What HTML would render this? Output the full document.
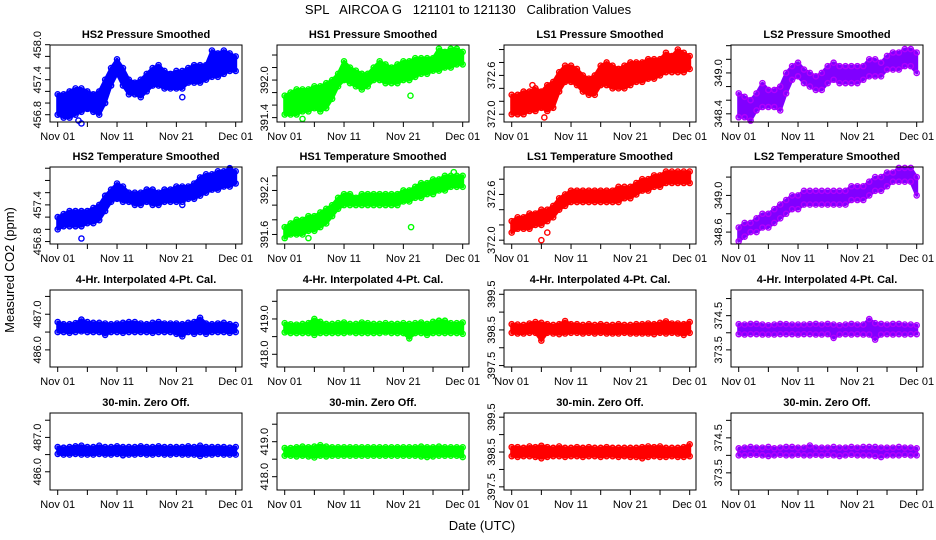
<!DOCTYPE html>
<html><head><meta charset="utf-8"><style>
html,body{margin:0;padding:0;background:#fff}
svg{display:block;font-family:"Liberation Sans",sans-serif}
</style></head><body>
<svg id="chart" width="936" height="540" viewBox="0 0 936 540" xmlns="http://www.w3.org/2000/svg">
<rect width="936" height="540" fill="#fff"/>
<text x="468" y="14" font-size="13" text-anchor="middle" xml:space="preserve">SPL   AIRCOA G   121101 to 121130   Calibration Values</text>
<text transform="translate(14,270) rotate(-90)" font-size="13" text-anchor="middle">Measured CO2 (ppm)</text>
<text x="482" y="530" font-size="13" text-anchor="middle">Date (UTC)</text>
</svg>
<script>
const dayTicks=[0,5,10,15,20,25,30];
const dayLabels=["Nov 01","","Nov 11","","Nov 21","","Dec 01"];
const hs2pLo=[456.8,456.75,456.75,456.8,456.85,456.9,456.85,456.8,457.0,457.3,457.5,457.3,457.15,457.15,457.1,457.2,457.3,457.3,457.25,457.25,457.25,457.25,457.35,457.35,457.35,457.4,457.45,457.45,457.5,457.55,457.55];
const hs2pHi=[457.15,457.15,457.2,457.25,457.25,457.2,457.15,457.2,457.4,457.6,457.75,457.6,457.4,457.35,457.4,457.5,457.6,457.65,457.55,457.5,457.55,457.55,457.6,457.65,457.65,457.65,457.9,457.85,457.9,457.85,457.8];
const hs1pLo=[391.45,391.45,391.45,391.5,391.5,391.55,391.5,391.55,391.7,391.9,392.0,391.95,391.9,391.85,391.9,392.0,392.0,391.95,391.95,391.95,392.0,392.0,392.05,392.1,392.1,392.15,392.15,392.2,392.2,392.25,392.25];
const hs1pHi=[391.75,391.8,391.85,391.85,391.85,391.9,391.9,391.95,392.0,392.1,392.3,392.2,392.15,392.1,392.1,392.2,392.3,392.25,392.2,392.25,392.3,392.3,392.35,392.35,392.35,392.35,392.5,392.45,392.5,392.5,392.45];
const ls1pLo=[372.0,372.0,372.0,372.05,372.05,372.1,372.05,372.1,372.35,372.5,372.5,372.45,372.35,372.3,372.3,372.45,372.45,372.4,372.4,372.4,372.45,372.5,372.5,372.55,372.55,372.6,372.65,372.65,372.65,372.65,372.7];
const ls1pHi=[372.3,372.3,372.35,372.35,372.4,372.35,372.45,372.5,372.65,372.75,372.75,372.7,372.6,372.55,372.6,372.75,372.8,372.75,372.7,372.75,372.8,372.8,372.8,372.85,372.85,372.85,372.95,372.9,373.0,372.95,372.9];
const ls2pLo=[348.35,348.35,348.3,348.45,348.5,348.5,348.5,348.45,348.7,348.9,348.95,348.85,348.8,348.75,348.75,348.85,348.9,348.85,348.85,348.85,348.85,348.9,348.95,348.95,348.95,349.05,349.05,349.05,349.1,349.1,349.0];
const ls2pHi=[348.7,348.65,348.6,348.7,348.85,348.75,348.75,348.8,349.0,349.1,349.15,349.05,349.0,348.95,349.0,349.1,349.15,349.1,349.1,349.1,349.1,349.1,349.2,349.2,349.15,349.25,349.3,349.3,349.35,349.35,349.3];
const hs2tLo=[457.0,457.05,457.05,457.05,457.05,457.1,457.1,457.15,457.3,457.45,457.5,457.45,457.45,457.4,457.4,457.45,457.4,457.4,457.45,457.45,457.45,457.45,457.5,457.5,457.55,457.6,457.65,457.65,457.7,457.7,457.75];
const hs2tHi=[457.2,457.25,457.3,457.3,457.3,457.3,457.35,457.4,457.55,457.65,457.75,457.7,457.6,457.6,457.6,457.65,457.65,457.6,457.65,457.65,457.7,457.7,457.7,457.75,457.85,457.9,457.9,457.95,457.95,458.0,457.95];
const hs1tLo=[391.55,391.6,391.6,391.6,391.65,391.65,391.7,391.75,391.85,391.95,392.0,392.0,392.0,392.0,392.0,392.0,392.0,392.0,392.0,392.0,392.05,392.05,392.1,392.1,392.15,392.15,392.2,392.2,392.25,392.25,392.25];
const hs1tHi=[391.7,391.75,391.8,391.8,391.85,391.85,391.9,391.95,392.0,392.1,392.15,392.15,392.1,392.15,392.15,392.15,392.15,392.15,392.15,392.15,392.2,392.2,392.25,392.3,392.3,392.35,392.35,392.4,392.4,392.4,392.4];
const ls1tLo=[372.1,372.15,372.15,372.15,372.2,372.2,372.25,372.3,372.4,372.45,372.5,372.5,372.5,372.5,372.5,372.5,372.5,372.5,372.5,372.55,372.55,372.6,372.65,372.65,372.7,372.7,372.75,372.75,372.75,372.75,372.75];
const ls1tHi=[372.25,372.3,372.3,372.35,372.35,372.4,372.4,372.45,372.55,372.6,372.65,372.65,372.65,372.65,372.65,372.65,372.65,372.65,372.7,372.7,372.7,372.75,372.8,372.8,372.85,372.85,372.9,372.9,372.9,372.9,372.9];
const ls2tLo=[348.5,348.55,348.6,348.6,348.65,348.65,348.7,348.75,348.8,348.85,348.85,348.9,348.9,348.9,348.9,348.9,348.9,348.9,348.9,348.95,348.95,348.95,349.0,349.05,349.05,349.1,349.15,349.15,349.15,349.15,349.0];
const ls2tHi=[348.65,348.7,348.7,348.75,348.8,348.8,348.85,348.9,348.95,349.0,349.0,349.05,349.05,349.05,349.05,349.05,349.05,349.05,349.05,349.1,349.1,349.1,349.15,349.2,349.2,349.25,349.25,349.3,349.3,349.3,349.2];
const hs2cLo=[486.5,486.5,486.48,486.5,486.52,486.5,486.5,486.5,486.42,486.5,486.5,486.48,486.5,486.5,486.5,486.5,486.48,486.5,486.5,486.5,486.45,486.38,486.5,486.45,486.5,486.45,486.5,486.5,486.5,486.48,486.5];
const hs2cHi=[486.78,486.72,486.72,486.75,486.85,486.78,486.76,486.76,486.74,486.72,486.74,486.76,486.78,486.78,486.74,486.72,486.76,486.78,486.74,486.74,486.74,486.72,486.76,486.78,486.9,486.74,486.72,486.74,486.76,486.72,486.7];
const hs1cLo=[418.62,418.6,418.6,418.6,418.6,418.55,418.6,418.6,418.6,418.6,418.6,418.62,418.6,418.6,418.6,418.6,418.6,418.62,418.6,418.6,418.6,418.45,418.6,418.6,418.55,418.6,418.6,418.6,418.6,418.6,418.58];
const hs1cHi=[418.88,418.85,418.84,418.86,418.88,419.0,418.92,418.86,418.86,418.88,418.9,418.86,418.86,418.9,418.88,418.86,418.86,418.88,418.86,418.86,418.88,418.86,418.88,418.9,418.86,418.92,418.95,418.95,418.88,418.88,418.9];
const ls1cLo=[398.42,398.4,398.4,398.42,398.42,398.2,398.42,398.4,398.38,398.4,398.42,398.42,398.4,398.42,398.4,398.42,398.4,398.4,398.4,398.42,398.4,398.4,398.4,398.4,398.38,398.42,398.4,398.42,398.4,398.36,398.42];
const ls1cHi=[398.66,398.65,398.64,398.68,398.72,398.7,398.66,398.64,398.66,398.75,398.66,398.66,398.64,398.66,398.64,398.66,398.64,398.64,398.66,398.64,398.64,398.66,398.66,398.68,398.66,398.7,398.74,398.68,398.68,398.66,398.72];
const ls2cLo=[373.96,373.95,373.96,373.96,373.95,373.95,373.95,373.96,373.96,373.96,373.95,373.96,373.96,373.95,373.95,373.96,373.85,373.95,373.96,373.95,373.96,373.95,373.95,373.8,373.95,373.96,373.95,373.96,373.95,373.96,373.96];
const ls2cHi=[374.25,374.24,374.26,374.26,374.24,374.22,374.24,374.26,374.25,374.24,374.24,374.24,374.25,374.26,374.24,374.26,374.24,374.22,374.24,374.26,374.24,374.24,374.4,374.28,374.26,374.24,374.26,374.26,374.24,374.24,374.22];
const hs2zLo=[486.52,486.5,486.5,486.52,486.5,486.5,486.5,486.52,486.5,486.5,486.52,486.48,486.5,486.5,486.52,486.5,486.5,486.52,486.5,486.5,486.52,486.5,486.5,486.5,486.46,486.5,486.5,486.52,486.5,486.5,486.5];
const hs2zHi=[486.72,486.7,486.72,486.74,486.76,486.72,486.72,486.76,486.72,486.72,486.74,486.72,486.72,486.72,486.74,486.72,486.72,486.74,486.72,486.72,486.72,486.72,486.74,486.72,486.76,486.72,486.72,486.72,486.72,486.7,486.72];
const hs1zLo=[418.6,418.6,418.58,418.6,418.58,418.55,418.6,418.58,418.6,418.6,418.6,418.6,418.6,418.6,418.6,418.6,418.6,418.6,418.6,418.6,418.6,418.6,418.6,418.58,418.56,418.58,418.6,418.6,418.6,418.6,418.56];
const hs1zHi=[418.82,418.82,418.84,418.86,418.84,418.86,418.9,418.86,418.84,418.84,418.84,418.84,418.84,418.84,418.84,418.84,418.84,418.84,418.84,418.84,418.84,418.84,418.84,418.86,418.84,418.84,418.86,418.84,418.84,418.84,418.84];
const ls1zLo=[398.38,398.36,398.38,398.38,398.36,398.32,398.36,398.38,398.38,398.36,398.38,398.38,398.36,398.38,398.38,398.36,398.38,398.38,398.36,398.38,398.36,398.36,398.32,398.36,398.38,398.36,398.36,398.38,398.36,398.36,398.38];
const ls1zHi=[398.64,398.64,398.62,398.66,398.64,398.68,398.64,398.62,398.66,398.62,398.62,398.64,398.62,398.64,398.62,398.62,398.64,398.62,398.62,398.62,398.62,398.62,398.64,398.66,398.64,398.66,398.62,398.62,398.62,398.64,398.72];
const ls2zLo=[374.0,374.0,374.02,374.02,374.0,373.98,374.0,374.02,374.0,374.0,374.02,374.0,374.0,374.02,374.0,374.02,374.0,373.98,374.0,374.02,374.0,374.0,374.0,373.98,373.95,374.0,374.0,374.0,374.02,374.0,374.0];
const ls2zHi=[374.2,374.22,374.24,374.22,374.22,374.24,374.2,374.22,374.24,374.24,374.22,374.22,374.28,374.22,374.22,374.22,374.24,374.22,374.22,374.24,374.22,374.24,374.24,374.24,374.22,374.22,374.22,374.24,374.22,374.22,374.2];
const hs2pOut=[[3.5,456.7],[4,456.65],[21,457.1]];
const hs1pOut=[[3,391.38],[21.2,391.75]];
const ls1pOut=[[3.5,372.45],[5.5,371.95]];
const hs2tOut=[[4,456.85],[21,457.4]];
const hs1tOut=[[4,391.55],[21.3,391.7],[28.5,392.45]];
const ls1tOut=[[5,372.0],[6,372.1]];

const BLUE="#0000ff",GREEN="#00ff00",RED="#ff0000",PURPLE="#ff00ff";
const colLefts=[50,277,504,731],rowTops=[45,167,290,413],BW=192,BH=77;
const panels=[
 {t:"HS2 Pressure Smoothed",c:BLUE,lo:hs2pLo,hi:hs2pHi,out:hs2pOut,y0:456.675,y1:457.995,ticks:[456.8,457.0,457.2,457.4,457.6,457.8,458.0],labs:[456.8,457.4,458.0]},
 {t:"HS1 Pressure Smoothed",c:GREEN,lo:hs1pLo,hi:hs1pHi,out:hs1pOut,y0:391.33,y1:392.56,ticks:[391.4,391.6,391.8,392.0,392.2,392.4],labs:[391.4,392.0]},
 {t:"LS1 Pressure Smoothed",c:RED,lo:ls1pLo,hi:ls1pHi,out:ls1pOut,y0:371.88,y1:373.07,ticks:[372.0,372.2,372.4,372.6,372.8,373.0],labs:[372.0,372.6]},
 {t:"LS2 Pressure Smoothed",c:PURPLE,lo:ls2pLo,hi:ls2pHi,out:[],y0:348.28,y1:349.41,ticks:[348.4,348.6,348.8,349.0,349.2,349.4],labs:[348.4,349.0]},
 {t:"HS2 Temperature Smoothed",c:BLUE,lo:hs2tLo,hi:hs2tHi,out:hs2tOut,y0:456.76,y1:458.02,ticks:[456.8,457.0,457.2,457.4,457.6,457.8,458.0],labs:[456.8,457.4]},
 {t:"HS1 Temperature Smoothed",c:GREEN,lo:hs1tLo,hi:hs1tHi,out:hs1tOut,y0:391.47,y1:392.52,ticks:[391.6,391.8,392.0,392.2,392.4],labs:[391.6,392.2]},
 {t:"LS1 Temperature Smoothed",c:RED,lo:ls1tLo,hi:ls1tHi,out:ls1tOut,y0:371.95,y1:372.96,ticks:[372.0,372.2,372.4,372.6,372.8],labs:[372.0,372.6]},
 {t:"LS2 Temperature Smoothed",c:PURPLE,lo:ls2tLo,hi:ls2tHi,out:[],y0:348.47,y1:349.31,ticks:[348.6,348.8,349.0,349.2],labs:[348.6,349.0]},
 {t:"4-Hr. Interpolated 4-Pt. Cal.",c:BLUE,lo:hs2cLo,hi:hs2cHi,out:[],y0:485.52,y1:487.68,ticks:[486.0,486.5,487.0,487.5],labs:[486.0,487.0]},
 {t:"4-Hr. Interpolated 4-Pt. Cal.",c:GREEN,lo:hs1cLo,hi:hs1cHi,out:[],y0:417.64,y1:419.82,ticks:[418.0,418.5,419.0,419.5],labs:[418.0,419.0]},
 {t:"4-Hr. Interpolated 4-Pt. Cal.",c:RED,lo:ls1cLo,hi:ls1cHi,out:[],y0:397.46,y1:399.62,ticks:[397.5,398.0,398.5,399.0,399.5],labs:[397.5,398.5,399.5]},
 {t:"4-Hr. Interpolated 4-Pt. Cal.",c:PURPLE,lo:ls2cLo,hi:ls2cHi,out:[],y0:373.0,y1:375.25,ticks:[373.5,374.0,374.5,375.0],labs:[373.5,374.5]},
 {t:"30-min. Zero Off.",c:BLUE,lo:hs2zLo,hi:hs2zHi,out:[],y0:485.47,y1:487.71,ticks:[486.0,486.5,487.0,487.5],labs:[486.0,487.0]},
 {t:"30-min. Zero Off.",c:GREEN,lo:hs1zLo,hi:hs1zHi,out:[],y0:417.62,y1:419.82,ticks:[418.0,418.5,419.0,419.5],labs:[418.0,419.0]},
 {t:"30-min. Zero Off.",c:RED,lo:ls1zLo,hi:ls1zHi,out:[],y0:397.41,y1:399.62,ticks:[397.5,398.0,398.5,399.0,399.5],labs:[397.5,398.5,399.5]},
 {t:"30-min. Zero Off.",c:PURPLE,lo:ls2zLo,hi:ls2zHi,out:[],y0:373.01,y1:375.21,ticks:[373.5,374.0,374.5,375.0],labs:[373.5,374.5]}
];
const NS="http://www.w3.org/2000/svg";
const svg=document.getElementById('chart');
function mk(tag,attrs,parent){const e=document.createElementNS(NS,tag);for(const k in attrs)e.setAttribute(k,attrs[k]);(parent||svg).appendChild(e);return e;}
panels.forEach((p,i)=>{
 const L=colLefts[i%4],T=rowTops[Math.floor(i/4)];
 const xs=d=>L+7.7+d*5.933;
 const ys=v=>T+BH-(v-p.y0)/(p.y1-p.y0)*BH;
 const g=mk('g',{});
 
 
 const ttl=mk('text',{x:L+BW/2,y:T-7,'font-size':11,'font-weight':'bold','text-anchor':'middle'},g);
 ttl.textContent=p.t;
 
 
 const isP=p.c===PURPLE;
 const fillC=isP?"#8000ff":p.c;
 const strokeC=isP?"#b000ff":p.c;
 let pts=p.hi.map((v,d)=>xs(d)+','+ys(v));
 for(let d=p.lo.length-1;d>=0;d--)pts.push(xs(d)+','+ys(p.lo[d]));
 const band=mk('polygon',{points:pts.join(' '),fill:fillC,stroke:fillC,'stroke-width':3,'stroke-linejoin':'round'},g);
 
 
 const circ=(d,v)=>{const c=mk('circle',{cx:xs(d),cy:ys(v),r:2.6,fill:'none',stroke:strokeC,'stroke-width':1.4},g);
  
  };
 p.hi.forEach((v,d)=>circ(d,v));
 p.lo.forEach((v,d)=>circ(d,v));
 p.out.forEach(o=>circ(o[0],o[1]));
 const box=mk('rect',{x:L,y:T,width:BW,height:BH,fill:'none',stroke:'#000','stroke-width':1},g);
 
 
 dayTicks.forEach((d,k)=>{
  mk('line',{x1:xs(d),x2:xs(d),y1:T+BH,y2:T+BH+5,stroke:'#000'},g);
  if(dayLabels[k]){const t=mk('text',{x:xs(d),y:T+BH+18,'font-size':11,'text-anchor':'middle'},g);t.textContent=dayLabels[k];
   
   }
 });
 p.ticks.forEach(v=>{mk('line',{x1:L-5,x2:L,y1:ys(v),y2:ys(v),stroke:'#000'},g);});
 p.labs.forEach(v=>{const y=ys(v);const t=mk('text',{transform:`translate(${L-9},${y}) rotate(-90)`,'font-size':11,'text-anchor':'middle'},g);t.textContent=v.toFixed(1);
  
  });
});
</script>
</body></html>
